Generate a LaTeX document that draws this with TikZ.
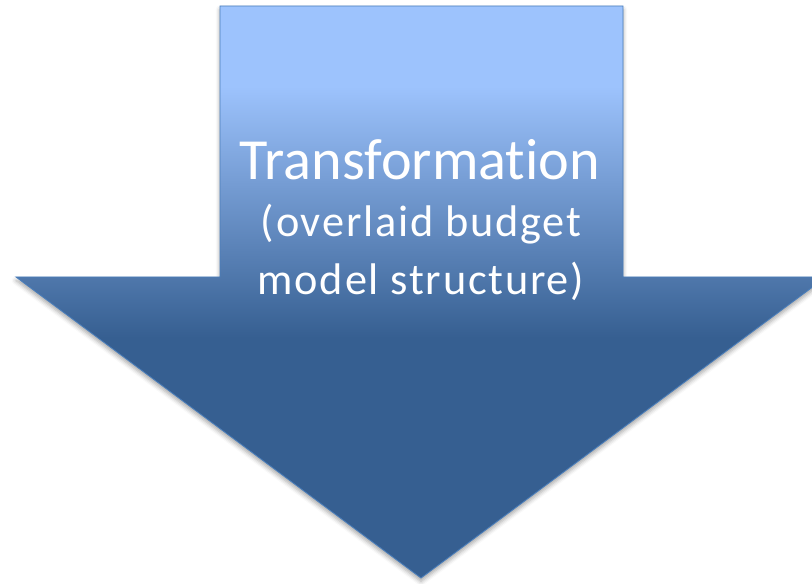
\documentclass[tikz,border=0pt]{standalone}
\usepackage{fontspec}
\setmainfont{Carlito}[Ligatures=NoCommon]
\newfontfamily\subfont{Carlito}[LetterSpace=4]
\usepackage{tikz}
\usetikzlibrary{shadows.blur}

\definecolor{arrowlight}{HTML}{9DC3FD}
\definecolor{arrowdark}{HTML}{365F91}
\definecolor{arrowline}{HTML}{4A7EBB}

% light top, dark from the head downwards
\pgfdeclareverticalshading{arrowshade}{100bp}{color(0bp)=(arrowdark); color(46bp)=(arrowdark); color(68bp)=(arrowlight); color(100bp)=(arrowlight)}

\tikzset{
  bigarrow/.style={draw=arrowline, line width=0.6pt, shading=arrowshade,
    blur shadow={shadow xshift=0pt, shadow yshift=-2.5pt, shadow blur radius=3pt, shadow opacity=35}},
  title/.style={text=white, anchor=base, inner sep=0pt, font=\fontsize{41.4}{49}\selectfont},
  subtitle/.style={text=white, anchor=base, inner sep=0pt, font=\subfont\fontsize{31.5}{38}\selectfont}
}

\begin{document}
\begin{tikzpicture}[x=0.025cm, y=-0.025cm]
    \useasboundingbox (0,0) rectangle (812,584);
    \clip (0,0) rectangle (812,584);

    % Down arrow
    \path[bigarrow] (220,6) -- (623,6) -- (623,277) -- (826,277)
        -- (421,578) -- (16,277) -- (220,277) -- cycle;

    % Labels
    \node[title] (trans) at (420,180) {Transformation};
    \node[subtitle] (overlay) at (421,237) {(overlaid budget};
    \node[subtitle] (model) at (421,295) {model structure)};
\end{tikzpicture}
\end{document}
